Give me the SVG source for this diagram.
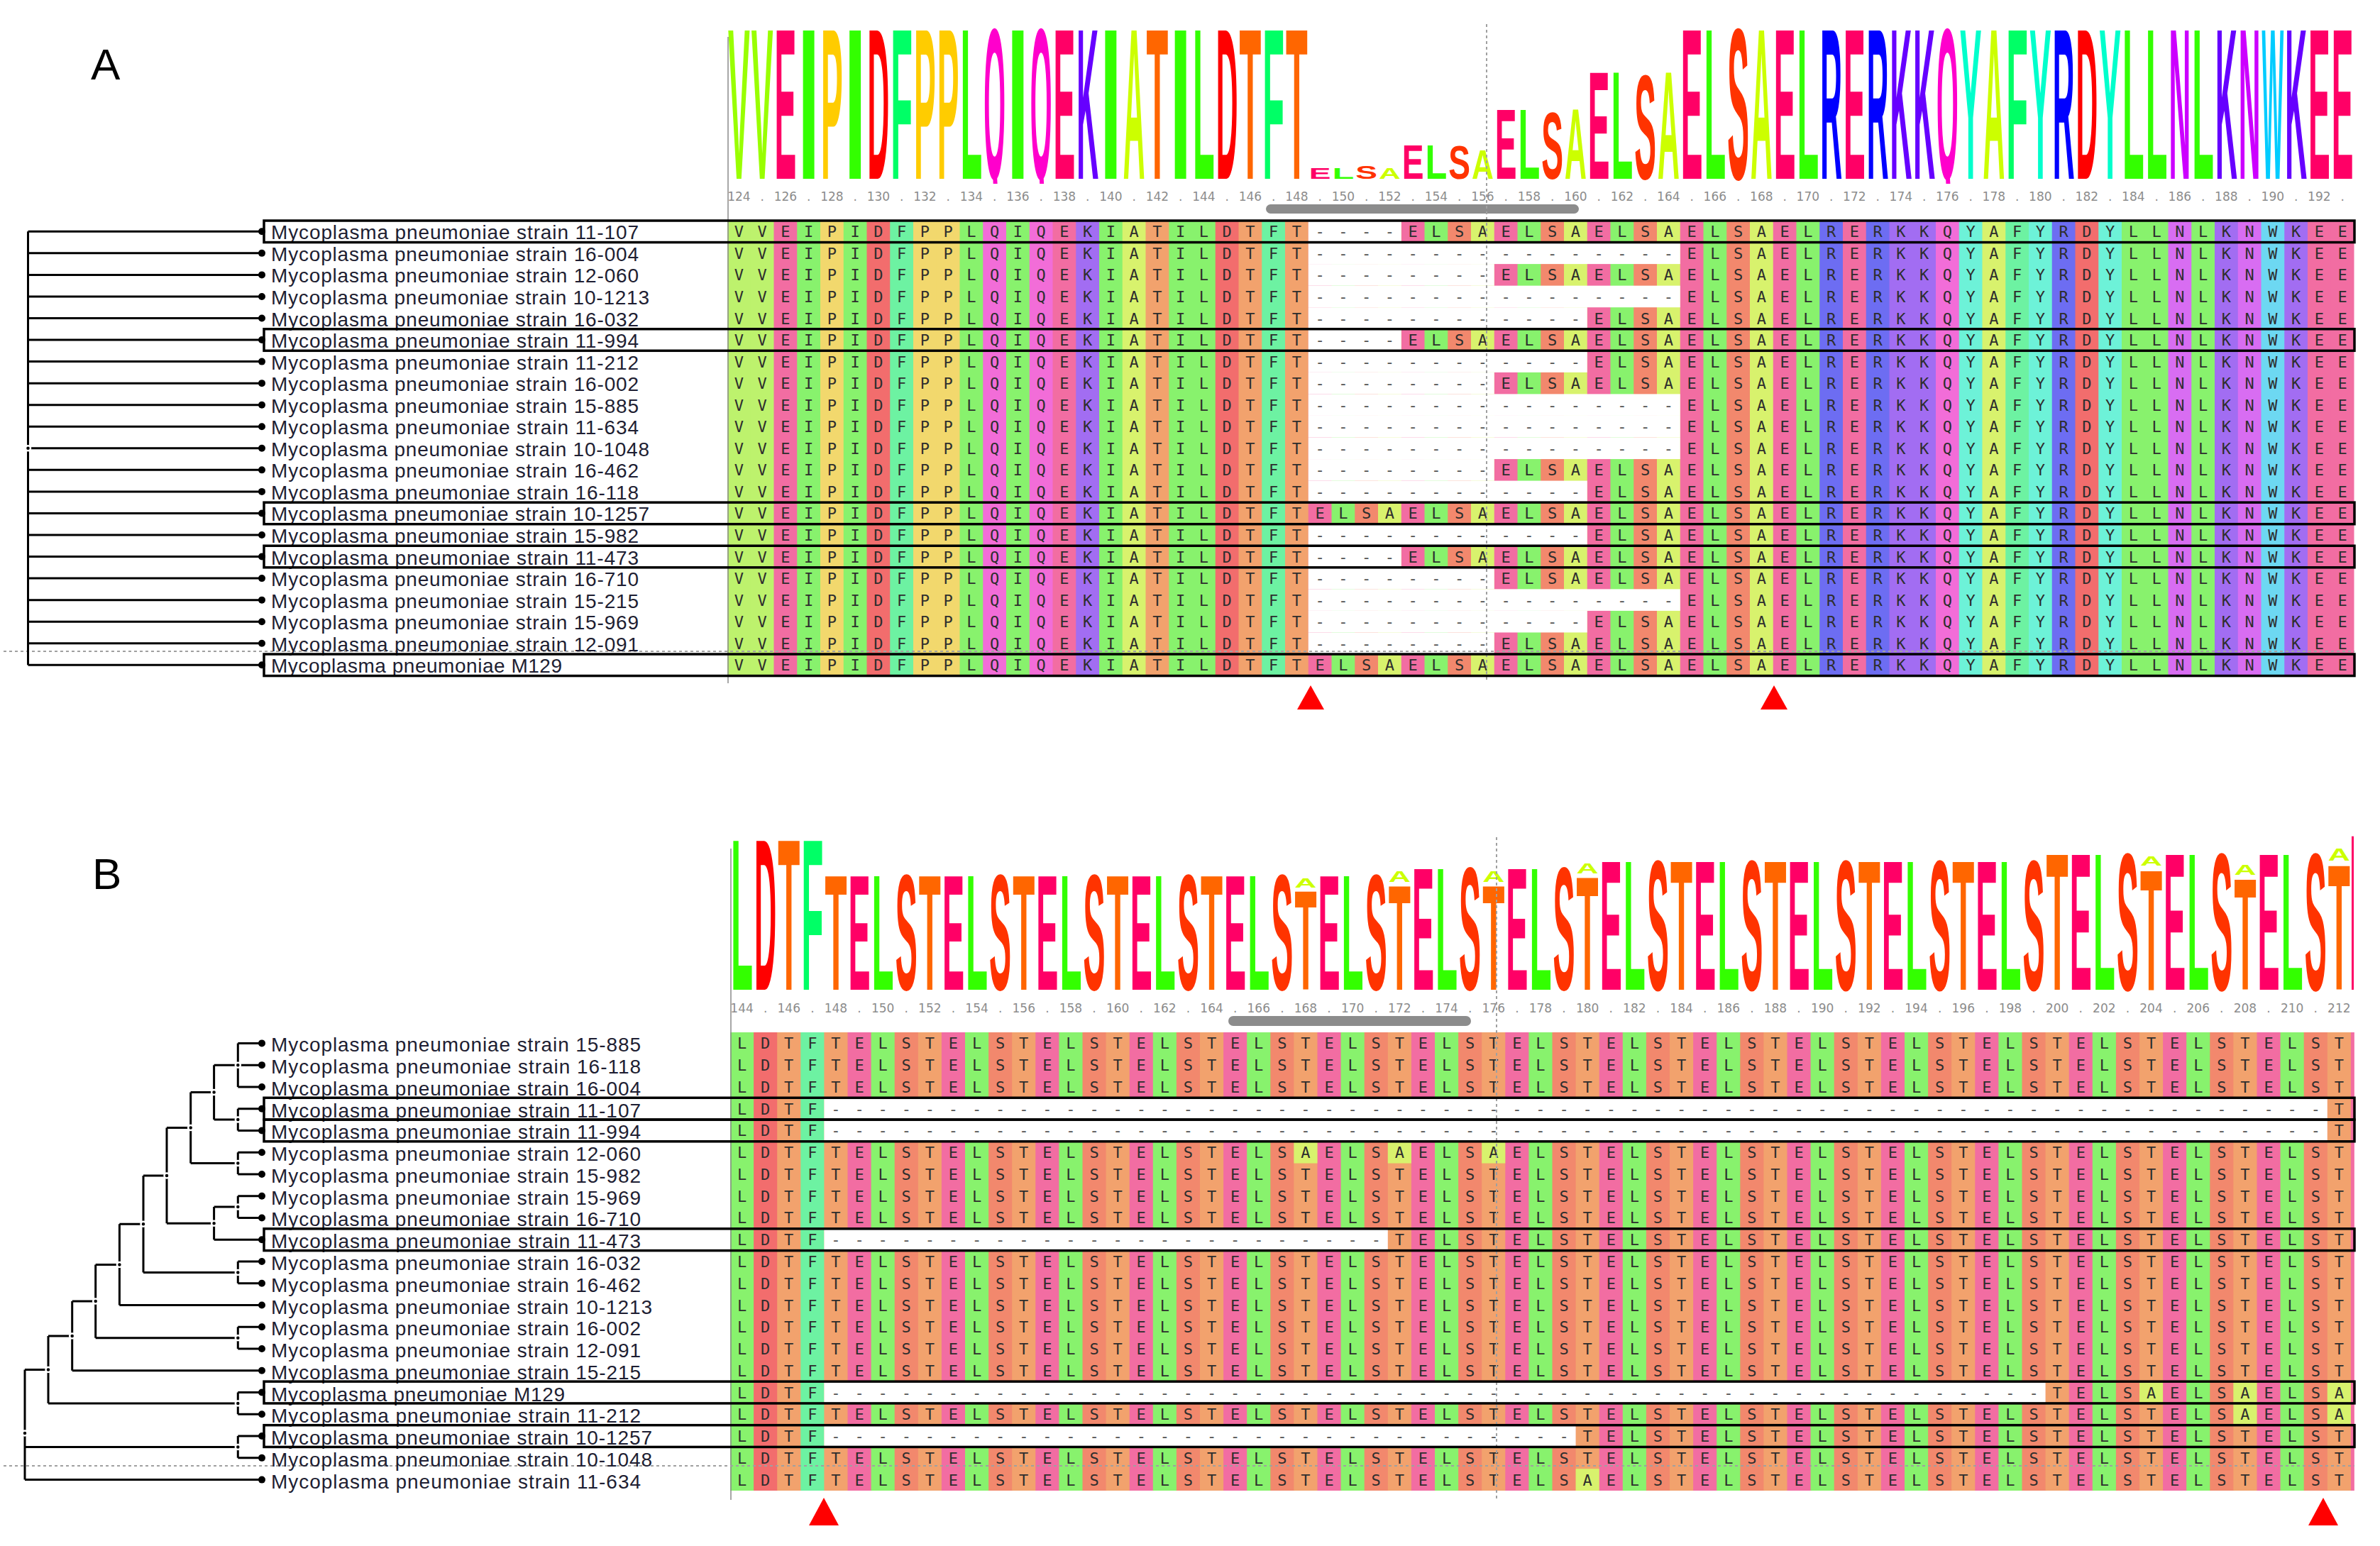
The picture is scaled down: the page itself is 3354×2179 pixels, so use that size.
<svg xmlns="http://www.w3.org/2000/svg" width="3354" height="2179" viewBox="0 0 3354 2179">
<style>
.lab{font-family:'Liberation Sans',Arial,sans-serif;font-size:28px;fill:#1e1e32}
.seq{font-family:'DejaVu Sans Mono',monospace;font-size:22px;fill:#2e2e2e}
.gp{fill:#505050}
.tick{font-family:'DejaVu Sans',sans-serif;font-size:17px;fill:#8c8c8c}
.lg text{font-family:'Liberation Sans',Arial,sans-serif;font-weight:bold}
.panel{font-family:'Liberation Sans',Arial,sans-serif;font-size:62px;fill:#000}
.tr{fill:none;stroke:#000;stroke-width:3}
.leaf{fill:#000}
.nd{fill:#000;stroke:#fff;stroke-width:2.5}
.box{fill:none;stroke:#000;stroke-width:3.5}
.dl{fill:none;stroke:#a0a0a0;stroke-width:2;stroke-dasharray:4 4}
.vl{fill:none;stroke:#8a8a8a;stroke-width:1.5}
.bar{fill:#8c8c8c}
.tri{fill:#ff0000}
.wh{fill:#fff}
.cV{fill:#bdf26d}.cE{fill:#f26da2}.cI{fill:#88f26d}.cL{fill:#88f26d}.cP{fill:#f2d86d}.cD{fill:#f26d6d}.cF{fill:#6df2a2}.cQ{fill:#f26dd8}.cK{fill:#a26df2}.cA{fill:#d8f26d}.cT{fill:#f2a26d}.cR{fill:#6d6df2}.cY{fill:#6df2d8}.cN{fill:#d86df2}.cW{fill:#6dd8f2}.cS{fill:#f2886d}
.gV{fill:#99ff00}.gE{fill:#ff0066}.gI{fill:#33ff00}.gL{fill:#33ff00}.gP{fill:#ffcc00}.gD{fill:#ff0000}.gF{fill:#00ff66}.gQ{fill:#ff00cc}.gK{fill:#6600ff}.gA{fill:#ccff00}.gT{fill:#ff6600}.gR{fill:#0000ff}.gY{fill:#00ffcc}.gN{fill:#cc00ff}.gW{fill:#00ccff}.gS{fill:#ff3300}
</style>
<defs>
<clipPath id="clipA"><rect x="1000" y="0" width="2340" height="259"/></clipPath>
<clipPath id="clipB"><rect x="1000" y="1150" width="2340" height="252"/></clipPath>
</defs>
<rect width="3354" height="2179" fill="#fff"/>

<!-- ================= PANEL A ================= -->
<text class="panel" x="128" y="112">A</text>

<g clip-path="url(#clipA)">
<g id="A-logo" class="lg" transform="translate(0 252) scale(1 1.03) translate(0 -252)">
<text x="1026" y="252" font-size="295" class="gV" textLength="30.75" lengthAdjust="spacingAndGlyphs">V</text>
<text x="1058.75" y="252" font-size="295" class="gV" textLength="30.75" lengthAdjust="spacingAndGlyphs">V</text>
<text x="1091.5" y="252" font-size="295" class="gE" textLength="30.75" lengthAdjust="spacingAndGlyphs">E</text>
<text x="1124.25" y="252" font-size="295" class="gI" textLength="30.75" lengthAdjust="spacingAndGlyphs">I</text>
<text x="1157" y="252" font-size="295" class="gP" textLength="30.75" lengthAdjust="spacingAndGlyphs">P</text>
<text x="1189.75" y="252" font-size="295" class="gI" textLength="30.75" lengthAdjust="spacingAndGlyphs">I</text>
<text x="1222.5" y="252" font-size="295" class="gD" textLength="30.75" lengthAdjust="spacingAndGlyphs">D</text>
<text x="1255.25" y="252" font-size="295" class="gF" textLength="30.75" lengthAdjust="spacingAndGlyphs">F</text>
<text x="1288" y="252" font-size="295" class="gP" textLength="30.75" lengthAdjust="spacingAndGlyphs">P</text>
<text x="1320.75" y="252" font-size="295" class="gP" textLength="30.75" lengthAdjust="spacingAndGlyphs">P</text>
<text x="1353.5" y="252" font-size="295" class="gL" textLength="30.75" lengthAdjust="spacingAndGlyphs">L</text>
<text x="1386.25" y="252" font-size="295" class="gQ" textLength="30.75" lengthAdjust="spacingAndGlyphs">Q</text>
<text x="1419" y="252" font-size="295" class="gI" textLength="30.75" lengthAdjust="spacingAndGlyphs">I</text>
<text x="1451.75" y="252" font-size="295" class="gQ" textLength="30.75" lengthAdjust="spacingAndGlyphs">Q</text>
<text x="1484.5" y="252" font-size="295" class="gE" textLength="30.75" lengthAdjust="spacingAndGlyphs">E</text>
<text x="1517.25" y="252" font-size="295" class="gK" textLength="30.75" lengthAdjust="spacingAndGlyphs">K</text>
<text x="1550" y="252" font-size="295" class="gI" textLength="30.75" lengthAdjust="spacingAndGlyphs">I</text>
<text x="1582.75" y="252" font-size="295" class="gA" textLength="30.75" lengthAdjust="spacingAndGlyphs">A</text>
<text x="1615.5" y="252" font-size="295" class="gT" textLength="30.75" lengthAdjust="spacingAndGlyphs">T</text>
<text x="1648.25" y="252" font-size="295" class="gI" textLength="30.75" lengthAdjust="spacingAndGlyphs">I</text>
<text x="1681" y="252" font-size="295" class="gL" textLength="30.75" lengthAdjust="spacingAndGlyphs">L</text>
<text x="1713.75" y="252" font-size="295" class="gD" textLength="30.75" lengthAdjust="spacingAndGlyphs">D</text>
<text x="1746.5" y="252" font-size="295" class="gT" textLength="30.75" lengthAdjust="spacingAndGlyphs">T</text>
<text x="1779.25" y="252" font-size="295" class="gF" textLength="30.75" lengthAdjust="spacingAndGlyphs">F</text>
<text x="1812" y="252" font-size="295" class="gT" textLength="30.75" lengthAdjust="spacingAndGlyphs">T</text>
<text x="1844.75" y="252" font-size="22" class="gE" textLength="30.75" lengthAdjust="spacingAndGlyphs">E</text>
<text x="1877.5" y="252" font-size="22" class="gL" textLength="30.75" lengthAdjust="spacingAndGlyphs">L</text>
<text x="1910.25" y="252" font-size="25" class="gS" textLength="30.75" lengthAdjust="spacingAndGlyphs">S</text>
<text x="1943" y="252" font-size="22" class="gA" textLength="30.75" lengthAdjust="spacingAndGlyphs">A</text>
<text x="1975.75" y="252" font-size="67" class="gE" textLength="30.75" lengthAdjust="spacingAndGlyphs">E</text>
<text x="2008.5" y="252" font-size="67" class="gL" textLength="30.75" lengthAdjust="spacingAndGlyphs">L</text>
<text x="2041.25" y="252" font-size="65" class="gS" textLength="30.75" lengthAdjust="spacingAndGlyphs">S</text>
<text x="2074" y="252" font-size="56" class="gA" textLength="30.75" lengthAdjust="spacingAndGlyphs">A</text>
<text x="2106.75" y="252" font-size="137" class="gE" textLength="30.75" lengthAdjust="spacingAndGlyphs">E</text>
<text x="2139.5" y="252" font-size="137" class="gL" textLength="30.75" lengthAdjust="spacingAndGlyphs">L</text>
<text x="2172.25" y="252" font-size="130" class="gS" textLength="30.75" lengthAdjust="spacingAndGlyphs">S</text>
<text x="2205" y="252" font-size="137" class="gA" textLength="30.75" lengthAdjust="spacingAndGlyphs">A</text>
<text x="2237.75" y="252" font-size="210" class="gE" textLength="30.75" lengthAdjust="spacingAndGlyphs">E</text>
<text x="2270.5" y="252" font-size="210" class="gL" textLength="30.75" lengthAdjust="spacingAndGlyphs">L</text>
<text x="2303.25" y="252" font-size="203" class="gS" textLength="30.75" lengthAdjust="spacingAndGlyphs">S</text>
<text x="2336" y="252" font-size="210" class="gA" textLength="30.75" lengthAdjust="spacingAndGlyphs">A</text>
<text x="2368.75" y="252" font-size="295" class="gE" textLength="30.75" lengthAdjust="spacingAndGlyphs">E</text>
<text x="2401.5" y="252" font-size="295" class="gL" textLength="30.75" lengthAdjust="spacingAndGlyphs">L</text>
<text x="2434.25" y="252" font-size="295" class="gS" textLength="30.75" lengthAdjust="spacingAndGlyphs">S</text>
<text x="2467" y="252" font-size="295" class="gA" textLength="30.75" lengthAdjust="spacingAndGlyphs">A</text>
<text x="2499.75" y="252" font-size="295" class="gE" textLength="30.75" lengthAdjust="spacingAndGlyphs">E</text>
<text x="2532.5" y="252" font-size="295" class="gL" textLength="30.75" lengthAdjust="spacingAndGlyphs">L</text>
<text x="2565.25" y="252" font-size="295" class="gR" textLength="30.75" lengthAdjust="spacingAndGlyphs">R</text>
<text x="2598" y="252" font-size="295" class="gE" textLength="30.75" lengthAdjust="spacingAndGlyphs">E</text>
<text x="2630.75" y="252" font-size="295" class="gR" textLength="30.75" lengthAdjust="spacingAndGlyphs">R</text>
<text x="2663.5" y="252" font-size="295" class="gK" textLength="30.75" lengthAdjust="spacingAndGlyphs">K</text>
<text x="2696.25" y="252" font-size="295" class="gK" textLength="30.75" lengthAdjust="spacingAndGlyphs">K</text>
<text x="2729" y="252" font-size="295" class="gQ" textLength="30.75" lengthAdjust="spacingAndGlyphs">Q</text>
<text x="2761.75" y="252" font-size="295" class="gY" textLength="30.75" lengthAdjust="spacingAndGlyphs">Y</text>
<text x="2794.5" y="252" font-size="295" class="gA" textLength="30.75" lengthAdjust="spacingAndGlyphs">A</text>
<text x="2827.25" y="252" font-size="295" class="gF" textLength="30.75" lengthAdjust="spacingAndGlyphs">F</text>
<text x="2860" y="252" font-size="295" class="gY" textLength="30.75" lengthAdjust="spacingAndGlyphs">Y</text>
<text x="2892.75" y="252" font-size="295" class="gR" textLength="30.75" lengthAdjust="spacingAndGlyphs">R</text>
<text x="2925.5" y="252" font-size="295" class="gD" textLength="30.75" lengthAdjust="spacingAndGlyphs">D</text>
<text x="2958.25" y="252" font-size="295" class="gY" textLength="30.75" lengthAdjust="spacingAndGlyphs">Y</text>
<text x="2991" y="252" font-size="295" class="gL" textLength="30.75" lengthAdjust="spacingAndGlyphs">L</text>
<text x="3023.75" y="252" font-size="295" class="gL" textLength="30.75" lengthAdjust="spacingAndGlyphs">L</text>
<text x="3056.5" y="252" font-size="295" class="gN" textLength="30.75" lengthAdjust="spacingAndGlyphs">N</text>
<text x="3089.25" y="252" font-size="295" class="gL" textLength="30.75" lengthAdjust="spacingAndGlyphs">L</text>
<text x="3122" y="252" font-size="295" class="gK" textLength="30.75" lengthAdjust="spacingAndGlyphs">K</text>
<text x="3154.75" y="252" font-size="295" class="gN" textLength="30.75" lengthAdjust="spacingAndGlyphs">N</text>
<text x="3187.5" y="252" font-size="295" class="gW" textLength="30.75" lengthAdjust="spacingAndGlyphs">W</text>
<text x="3220.25" y="252" font-size="295" class="gK" textLength="30.75" lengthAdjust="spacingAndGlyphs">K</text>
<text x="3253" y="252" font-size="295" class="gE" textLength="30.75" lengthAdjust="spacingAndGlyphs">E</text>
<text x="3285.75" y="252" font-size="295" class="gE" textLength="30.75" lengthAdjust="spacingAndGlyphs">E</text>
</g>
</g>

<text id="A-ticks" class="tick" x="1025.15" y="283" word-spacing="8.42">124 . 126 . 128 . 130 . 132 . 134 . 136 . 138 . 140 . 142 . 144 . 146 . 148 . 150 . 152 . 154 . 156 . 158 . 160 . 162 . 164 . 166 . 168 . 170 . 172 . 174 . 176 . 178 . 180 . 182 . 184 . 186 . 188 . 190 . 192 .</text>
<rect class="bar" x="1784" y="288" width="441" height="13" rx="6.5"/>

<g id="A-cells" transform="translate(1025 311) scale(32.75 30.55)">
<rect x="0" width="1.04" height="21" class="cV"/><rect x="1" width="1.04" height="21" class="cV"/><rect x="2" width="1.04" height="21" class="cE"/><rect x="3" width="1.04" height="21" class="cI"/><rect x="4" width="1.04" height="21" class="cP"/><rect x="5" width="1.04" height="21" class="cI"/><rect x="6" width="1.04" height="21" class="cD"/><rect x="7" width="1.04" height="21" class="cF"/><rect x="8" width="1.04" height="21" class="cP"/><rect x="9" width="1.04" height="21" class="cP"/>
<rect x="10" width="1.04" height="21" class="cL"/><rect x="11" width="1.04" height="21" class="cQ"/><rect x="12" width="1.04" height="21" class="cI"/><rect x="13" width="1.04" height="21" class="cQ"/><rect x="14" width="1.04" height="21" class="cE"/><rect x="15" width="1.04" height="21" class="cK"/><rect x="16" width="1.04" height="21" class="cI"/><rect x="17" width="1.04" height="21" class="cA"/><rect x="18" width="1.04" height="21" class="cT"/><rect x="19" width="1.04" height="21" class="cI"/>
<rect x="20" width="1.04" height="21" class="cL"/><rect x="21" width="1.04" height="21" class="cD"/><rect x="22" width="1.04" height="21" class="cT"/><rect x="23" width="1.04" height="21" class="cF"/><rect x="24" width="1.04" height="21" class="cT"/><rect x="25" width="1.04" height="21" class="cE"/><rect x="26" width="1.04" height="21" class="cL"/><rect x="27" width="1.04" height="21" class="cS"/><rect x="28" width="1.04" height="21" class="cA"/><rect x="29" width="1.04" height="21" class="cE"/>
<rect x="30" width="1.04" height="21" class="cL"/><rect x="31" width="1.04" height="21" class="cS"/><rect x="32" width="1.04" height="21" class="cA"/><rect x="33" width="1.04" height="21" class="cE"/><rect x="34" width="1.04" height="21" class="cL"/><rect x="35" width="1.04" height="21" class="cS"/><rect x="36" width="1.04" height="21" class="cA"/><rect x="37" width="1.04" height="21" class="cE"/><rect x="38" width="1.04" height="21" class="cL"/><rect x="39" width="1.04" height="21" class="cS"/>
<rect x="40" width="1.04" height="21" class="cA"/><rect x="41" width="1.04" height="21" class="cE"/><rect x="42" width="1.04" height="21" class="cL"/><rect x="43" width="1.04" height="21" class="cS"/><rect x="44" width="1.04" height="21" class="cA"/><rect x="45" width="1.04" height="21" class="cE"/><rect x="46" width="1.04" height="21" class="cL"/><rect x="47" width="1.04" height="21" class="cR"/><rect x="48" width="1.04" height="21" class="cE"/><rect x="49" width="1.04" height="21" class="cR"/>
<rect x="50" width="1.04" height="21" class="cK"/><rect x="51" width="1.04" height="21" class="cK"/><rect x="52" width="1.04" height="21" class="cQ"/><rect x="53" width="1.04" height="21" class="cY"/><rect x="54" width="1.04" height="21" class="cA"/><rect x="55" width="1.04" height="21" class="cF"/><rect x="56" width="1.04" height="21" class="cY"/><rect x="57" width="1.04" height="21" class="cR"/><rect x="58" width="1.04" height="21" class="cD"/><rect x="59" width="1.04" height="21" class="cY"/>
<rect x="60" width="1.04" height="21" class="cL"/><rect x="61" width="1.04" height="21" class="cL"/><rect x="62" width="1.04" height="21" class="cN"/><rect x="63" width="1.04" height="21" class="cL"/><rect x="64" width="1.04" height="21" class="cK"/><rect x="65" width="1.04" height="21" class="cN"/><rect x="66" width="1.04" height="21" class="cW"/><rect x="67" width="1.04" height="21" class="cK"/><rect x="68" width="1.04" height="21" class="cE"/><rect x="69" width="1" height="21" class="cE"/>
<rect class="wh" x="25" y="0" width="4" height="1"/>
<rect class="wh" x="25" y="1" width="16" height="1"/>
<rect class="wh" x="25" y="2" width="8" height="1"/>
<rect class="wh" x="25" y="3" width="16" height="1"/>
<rect class="wh" x="25" y="4" width="12" height="1"/>
<rect class="wh" x="25" y="5" width="4" height="1"/>
<rect class="wh" x="25" y="6" width="12" height="1"/>
<rect class="wh" x="25" y="7" width="8" height="1"/>
<rect class="wh" x="25" y="8" width="16" height="1"/>
<rect class="wh" x="25" y="9" width="16" height="1"/>
<rect class="wh" x="25" y="10" width="16" height="1"/>
<rect class="wh" x="25" y="11" width="8" height="1"/>
<rect class="wh" x="25" y="12" width="12" height="1"/>
<rect class="wh" x="25" y="14" width="12" height="1"/>
<rect class="wh" x="25" y="15" width="4" height="1"/>
<rect class="wh" x="25" y="16" width="8" height="1"/>
<rect class="wh" x="25" y="17" width="16" height="1"/>
<rect class="wh" x="25" y="18" width="12" height="1"/>
<rect class="wh" x="25" y="19" width="8" height="1"/>
</g>

<g id="A-seq" class="seq" letter-spacing="19.505">
<text x="1034.75" y="334.3">VVEIPIDFPPLQIQEKIATILDTFT<tspan class="gp">----</tspan>ELSAELSAELSAELSAELRERKKQYAFYRDYLLNLKNWKEE</text>
<text x="1034.75" y="364.85">VVEIPIDFPPLQIQEKIATILDTFT<tspan class="gp">----------------</tspan>ELSAELRERKKQYAFYRDYLLNLKNWKEE</text>
<text x="1034.75" y="395.4">VVEIPIDFPPLQIQEKIATILDTFT<tspan class="gp">--------</tspan>ELSAELSAELSAELRERKKQYAFYRDYLLNLKNWKEE</text>
<text x="1034.75" y="425.95">VVEIPIDFPPLQIQEKIATILDTFT<tspan class="gp">----------------</tspan>ELSAELRERKKQYAFYRDYLLNLKNWKEE</text>
<text x="1034.75" y="456.5">VVEIPIDFPPLQIQEKIATILDTFT<tspan class="gp">------------</tspan>ELSAELSAELRERKKQYAFYRDYLLNLKNWKEE</text>
<text x="1034.75" y="487.05">VVEIPIDFPPLQIQEKIATILDTFT<tspan class="gp">----</tspan>ELSAELSAELSAELSAELRERKKQYAFYRDYLLNLKNWKEE</text>
<text x="1034.75" y="517.6">VVEIPIDFPPLQIQEKIATILDTFT<tspan class="gp">------------</tspan>ELSAELSAELRERKKQYAFYRDYLLNLKNWKEE</text>
<text x="1034.75" y="548.15">VVEIPIDFPPLQIQEKIATILDTFT<tspan class="gp">--------</tspan>ELSAELSAELSAELRERKKQYAFYRDYLLNLKNWKEE</text>
<text x="1034.75" y="578.7">VVEIPIDFPPLQIQEKIATILDTFT<tspan class="gp">----------------</tspan>ELSAELRERKKQYAFYRDYLLNLKNWKEE</text>
<text x="1034.75" y="609.25">VVEIPIDFPPLQIQEKIATILDTFT<tspan class="gp">----------------</tspan>ELSAELRERKKQYAFYRDYLLNLKNWKEE</text>
<text x="1034.75" y="639.8">VVEIPIDFPPLQIQEKIATILDTFT<tspan class="gp">----------------</tspan>ELSAELRERKKQYAFYRDYLLNLKNWKEE</text>
<text x="1034.75" y="670.35">VVEIPIDFPPLQIQEKIATILDTFT<tspan class="gp">--------</tspan>ELSAELSAELSAELRERKKQYAFYRDYLLNLKNWKEE</text>
<text x="1034.75" y="700.9">VVEIPIDFPPLQIQEKIATILDTFT<tspan class="gp">------------</tspan>ELSAELSAELRERKKQYAFYRDYLLNLKNWKEE</text>
<text x="1034.75" y="731.45">VVEIPIDFPPLQIQEKIATILDTFTELSAELSAELSAELSAELSAELRERKKQYAFYRDYLLNLKNWKEE</text>
<text x="1034.75" y="762">VVEIPIDFPPLQIQEKIATILDTFT<tspan class="gp">------------</tspan>ELSAELSAELRERKKQYAFYRDYLLNLKNWKEE</text>
<text x="1034.75" y="792.55">VVEIPIDFPPLQIQEKIATILDTFT<tspan class="gp">----</tspan>ELSAELSAELSAELSAELRERKKQYAFYRDYLLNLKNWKEE</text>
<text x="1034.75" y="823.1">VVEIPIDFPPLQIQEKIATILDTFT<tspan class="gp">--------</tspan>ELSAELSAELSAELRERKKQYAFYRDYLLNLKNWKEE</text>
<text x="1034.75" y="853.65">VVEIPIDFPPLQIQEKIATILDTFT<tspan class="gp">----------------</tspan>ELSAELRERKKQYAFYRDYLLNLKNWKEE</text>
<text x="1034.75" y="884.2">VVEIPIDFPPLQIQEKIATILDTFT<tspan class="gp">------------</tspan>ELSAELSAELRERKKQYAFYRDYLLNLKNWKEE</text>
<text x="1034.75" y="914.75">VVEIPIDFPPLQIQEKIATILDTFT<tspan class="gp">--------</tspan>ELSAELSAELSAELRERKKQYAFYRDYLLNLKNWKEE</text>
<text x="1034.75" y="945.3">VVEIPIDFPPLQIQEKIATILDTFTELSAELSAELSAELSAELSAELRERKKQYAFYRDYLLNLKNWKEE</text>
</g>

<g id="A-guides">
<line class="vl" x1="1026" y1="52" x2="1026" y2="963"/>
<line class="dl" x1="2095" y1="34" x2="2095" y2="962"/>
<line class="dl" x1="5" y1="918" x2="3318" y2="918"/>
</g>

<g id="A-connectors">
<path class="tr" d="M39.5 326.3V937.3M39.5 326.3H369M39.5 356.85H369M39.5 387.4H369M39.5 417.95H369M39.5 448.5H369M39.5 479.05H369M39.5 509.6H369M39.5 540.15H369M39.5 570.7H369M39.5 601.25H369M39.5 631.8H369M39.5 662.35H369M39.5 692.9H369M39.5 723.45H369M39.5 754H369M39.5 784.55H369M39.5 815.1H369M39.5 845.65H369M39.5 876.2H369M39.5 906.75H369M39.5 937.3H369"/>
<circle class="nd" cx="39.5" cy="631.8" r="3.5"/>
</g>

<g id="A-leaves">
<g id="A-leaf-11-107"><circle class="leaf" cx="369" cy="326.3" r="5"/><text class="lab" x="382" y="337.3" textLength="518">Mycoplasma pneumoniae strain 11-107</text></g>
<g id="A-leaf-16-004"><circle class="leaf" cx="369" cy="356.85" r="5"/><text class="lab" x="382" y="367.85" textLength="518">Mycoplasma pneumoniae strain 16-004</text></g>
<g id="A-leaf-12-060"><circle class="leaf" cx="369" cy="387.4" r="5"/><text class="lab" x="382" y="398.4" textLength="518">Mycoplasma pneumoniae strain 12-060</text></g>
<g id="A-leaf-10-1213"><circle class="leaf" cx="369" cy="417.95" r="5"/><text class="lab" x="382" y="428.95" textLength="533">Mycoplasma pneumoniae strain 10-1213</text></g>
<g id="A-leaf-16-032"><circle class="leaf" cx="369" cy="448.5" r="5"/><text class="lab" x="382" y="459.5" textLength="518">Mycoplasma pneumoniae strain 16-032</text></g>
<g id="A-leaf-11-994"><circle class="leaf" cx="369" cy="479.05" r="5"/><text class="lab" x="382" y="490.05" textLength="518">Mycoplasma pneumoniae strain 11-994</text></g>
<g id="A-leaf-11-212"><circle class="leaf" cx="369" cy="509.6" r="5"/><text class="lab" x="382" y="520.6" textLength="518">Mycoplasma pneumoniae strain 11-212</text></g>
<g id="A-leaf-16-002"><circle class="leaf" cx="369" cy="540.15" r="5"/><text class="lab" x="382" y="551.15" textLength="518">Mycoplasma pneumoniae strain 16-002</text></g>
<g id="A-leaf-15-885"><circle class="leaf" cx="369" cy="570.7" r="5"/><text class="lab" x="382" y="581.7" textLength="518">Mycoplasma pneumoniae strain 15-885</text></g>
<g id="A-leaf-11-634"><circle class="leaf" cx="369" cy="601.25" r="5"/><text class="lab" x="382" y="612.25" textLength="518">Mycoplasma pneumoniae strain 11-634</text></g>
<g id="A-leaf-10-1048"><circle class="leaf" cx="369" cy="631.8" r="5"/><text class="lab" x="382" y="642.8" textLength="533">Mycoplasma pneumoniae strain 10-1048</text></g>
<g id="A-leaf-16-462"><circle class="leaf" cx="369" cy="662.35" r="5"/><text class="lab" x="382" y="673.35" textLength="518">Mycoplasma pneumoniae strain 16-462</text></g>
<g id="A-leaf-16-118"><circle class="leaf" cx="369" cy="692.9" r="5"/><text class="lab" x="382" y="703.9" textLength="518">Mycoplasma pneumoniae strain 16-118</text></g>
<g id="A-leaf-10-1257"><circle class="leaf" cx="369" cy="723.45" r="5"/><text class="lab" x="382" y="734.45" textLength="533">Mycoplasma pneumoniae strain 10-1257</text></g>
<g id="A-leaf-15-982"><circle class="leaf" cx="369" cy="754" r="5"/><text class="lab" x="382" y="765" textLength="518">Mycoplasma pneumoniae strain 15-982</text></g>
<g id="A-leaf-11-473"><circle class="leaf" cx="369" cy="784.55" r="5"/><text class="lab" x="382" y="795.55" textLength="518">Mycoplasma pneumoniae strain 11-473</text></g>
<g id="A-leaf-16-710"><circle class="leaf" cx="369" cy="815.1" r="5"/><text class="lab" x="382" y="826.1" textLength="518">Mycoplasma pneumoniae strain 16-710</text></g>
<g id="A-leaf-15-215"><circle class="leaf" cx="369" cy="845.65" r="5"/><text class="lab" x="382" y="856.65" textLength="518">Mycoplasma pneumoniae strain 15-215</text></g>
<g id="A-leaf-15-969"><circle class="leaf" cx="369" cy="876.2" r="5"/><text class="lab" x="382" y="887.2" textLength="518">Mycoplasma pneumoniae strain 15-969</text></g>
<g id="A-leaf-12-091"><circle class="leaf" cx="369" cy="906.75" r="5"/><text class="lab" x="382" y="917.75" textLength="518">Mycoplasma pneumoniae strain 12-091</text></g>
<g id="A-leaf-M129"><circle class="leaf" cx="369" cy="937.3" r="5"/><text class="lab" x="382" y="948.3" textLength="410">Mycoplasma pneumoniae M129</text></g>
</g>

<g id="A-boxes">
<rect class="box" x="372" y="311" width="2946" height="30.55"/>
<rect class="box" x="372" y="463.75" width="2946" height="30.55"/>
<rect class="box" x="372" y="708.15" width="2946" height="30.55"/>
<rect class="box" x="372" y="769.25" width="2946" height="30.55"/>
<rect class="box" x="372" y="922" width="2946" height="30.55"/>
</g>

<g id="A-markers">
<path class="tri" d="M1828 1000L1847 966L1866 1000Z"/>
<path class="tri" d="M2481 1000L2500 966L2519 1000Z"/>
</g>

<!-- ================= PANEL B ================= -->
<text class="panel" x="130" y="1253">B</text>

<g clip-path="url(#clipB)">
<g id="B-logo" class="lg" transform="translate(0 1395) scale(1 1.03) translate(0 -1395)">
<text x="1030" y="1395" font-size="296" class="gL" textLength="31.1" lengthAdjust="spacingAndGlyphs">L</text>
<text x="1063.1" y="1395" font-size="296" class="gD" textLength="31.1" lengthAdjust="spacingAndGlyphs">D</text>
<text x="1096.2" y="1395" font-size="296" class="gT" textLength="31.1" lengthAdjust="spacingAndGlyphs">T</text>
<text x="1129.3" y="1395" font-size="296" class="gF" textLength="31.1" lengthAdjust="spacingAndGlyphs">F</text>
<text x="1162.4" y="1395" font-size="226" class="gT" textLength="31.1" lengthAdjust="spacingAndGlyphs">T</text>
<text x="1195.5" y="1395" font-size="226" class="gE" textLength="31.1" lengthAdjust="spacingAndGlyphs">E</text>
<text x="1228.6" y="1395" font-size="226" class="gL" textLength="31.1" lengthAdjust="spacingAndGlyphs">L</text>
<text x="1261.7" y="1395" font-size="226" class="gS" textLength="31.1" lengthAdjust="spacingAndGlyphs">S</text>
<text x="1294.8" y="1395" font-size="226" class="gT" textLength="31.1" lengthAdjust="spacingAndGlyphs">T</text>
<text x="1327.9" y="1395" font-size="226" class="gE" textLength="31.1" lengthAdjust="spacingAndGlyphs">E</text>
<text x="1361" y="1395" font-size="226" class="gL" textLength="31.1" lengthAdjust="spacingAndGlyphs">L</text>
<text x="1394.1" y="1395" font-size="226" class="gS" textLength="31.1" lengthAdjust="spacingAndGlyphs">S</text>
<text x="1427.2" y="1395" font-size="226" class="gT" textLength="31.1" lengthAdjust="spacingAndGlyphs">T</text>
<text x="1460.3" y="1395" font-size="226" class="gE" textLength="31.1" lengthAdjust="spacingAndGlyphs">E</text>
<text x="1493.4" y="1395" font-size="226" class="gL" textLength="31.1" lengthAdjust="spacingAndGlyphs">L</text>
<text x="1526.5" y="1395" font-size="226" class="gS" textLength="31.1" lengthAdjust="spacingAndGlyphs">S</text>
<text x="1559.6" y="1395" font-size="226" class="gT" textLength="31.1" lengthAdjust="spacingAndGlyphs">T</text>
<text x="1592.7" y="1395" font-size="226" class="gE" textLength="31.1" lengthAdjust="spacingAndGlyphs">E</text>
<text x="1625.8" y="1395" font-size="226" class="gL" textLength="31.1" lengthAdjust="spacingAndGlyphs">L</text>
<text x="1658.9" y="1395" font-size="226" class="gS" textLength="31.1" lengthAdjust="spacingAndGlyphs">S</text>
<text x="1692" y="1395" font-size="226" class="gT" textLength="31.1" lengthAdjust="spacingAndGlyphs">T</text>
<text x="1725.1" y="1395" font-size="226" class="gE" textLength="31.1" lengthAdjust="spacingAndGlyphs">E</text>
<text x="1758.2" y="1395" font-size="226" class="gL" textLength="31.1" lengthAdjust="spacingAndGlyphs">L</text>
<text x="1791.3" y="1395" font-size="226" class="gS" textLength="31.1" lengthAdjust="spacingAndGlyphs">S</text>
<text x="1824.4" y="1395" font-size="194" class="gT" textLength="31.1" lengthAdjust="spacingAndGlyphs">T</text>
<text x="1824.4" y="1255" font-size="18.2" class="gA" textLength="31.1" lengthAdjust="spacingAndGlyphs">A</text>
<text x="1857.5" y="1395" font-size="226" class="gE" textLength="31.1" lengthAdjust="spacingAndGlyphs">E</text>
<text x="1890.6" y="1395" font-size="226" class="gL" textLength="31.1" lengthAdjust="spacingAndGlyphs">L</text>
<text x="1923.7" y="1395" font-size="226" class="gS" textLength="31.1" lengthAdjust="spacingAndGlyphs">S</text>
<text x="1956.8" y="1395" font-size="205" class="gT" textLength="31.1" lengthAdjust="spacingAndGlyphs">T</text>
<text x="1956.8" y="1247" font-size="21" class="gA" textLength="31.1" lengthAdjust="spacingAndGlyphs">A</text>
<text x="1989.9" y="1395" font-size="240" class="gE" textLength="31.1" lengthAdjust="spacingAndGlyphs">E</text>
<text x="2023" y="1395" font-size="240" class="gL" textLength="31.1" lengthAdjust="spacingAndGlyphs">L</text>
<text x="2056.1" y="1395" font-size="240" class="gS" textLength="31.1" lengthAdjust="spacingAndGlyphs">S</text>
<text x="2089.2" y="1395" font-size="205" class="gT" textLength="31.1" lengthAdjust="spacingAndGlyphs">T</text>
<text x="2089.2" y="1247" font-size="21" class="gA" textLength="31.1" lengthAdjust="spacingAndGlyphs">A</text>
<text x="2122.3" y="1395" font-size="240" class="gE" textLength="31.1" lengthAdjust="spacingAndGlyphs">E</text>
<text x="2155.4" y="1395" font-size="240" class="gL" textLength="31.1" lengthAdjust="spacingAndGlyphs">L</text>
<text x="2188.5" y="1395" font-size="240" class="gS" textLength="31.1" lengthAdjust="spacingAndGlyphs">S</text>
<text x="2221.6" y="1395" font-size="221" class="gT" textLength="31.1" lengthAdjust="spacingAndGlyphs">T</text>
<text x="2221.6" y="1236" font-size="19.6" class="gA" textLength="31.1" lengthAdjust="spacingAndGlyphs">A</text>
<text x="2254.7" y="1395" font-size="254" class="gE" textLength="31.1" lengthAdjust="spacingAndGlyphs">E</text>
<text x="2287.8" y="1395" font-size="254" class="gL" textLength="31.1" lengthAdjust="spacingAndGlyphs">L</text>
<text x="2320.9" y="1395" font-size="254" class="gS" textLength="31.1" lengthAdjust="spacingAndGlyphs">S</text>
<text x="2354" y="1395" font-size="254" class="gT" textLength="31.1" lengthAdjust="spacingAndGlyphs">T</text>
<text x="2387.1" y="1395" font-size="254" class="gE" textLength="31.1" lengthAdjust="spacingAndGlyphs">E</text>
<text x="2420.2" y="1395" font-size="254" class="gL" textLength="31.1" lengthAdjust="spacingAndGlyphs">L</text>
<text x="2453.3" y="1395" font-size="254" class="gS" textLength="31.1" lengthAdjust="spacingAndGlyphs">S</text>
<text x="2486.4" y="1395" font-size="254" class="gT" textLength="31.1" lengthAdjust="spacingAndGlyphs">T</text>
<text x="2519.5" y="1395" font-size="254" class="gE" textLength="31.1" lengthAdjust="spacingAndGlyphs">E</text>
<text x="2552.6" y="1395" font-size="254" class="gL" textLength="31.1" lengthAdjust="spacingAndGlyphs">L</text>
<text x="2585.7" y="1395" font-size="254" class="gS" textLength="31.1" lengthAdjust="spacingAndGlyphs">S</text>
<text x="2618.8" y="1395" font-size="254" class="gT" textLength="31.1" lengthAdjust="spacingAndGlyphs">T</text>
<text x="2651.9" y="1395" font-size="254" class="gE" textLength="31.1" lengthAdjust="spacingAndGlyphs">E</text>
<text x="2685" y="1395" font-size="254" class="gL" textLength="31.1" lengthAdjust="spacingAndGlyphs">L</text>
<text x="2718.1" y="1395" font-size="254" class="gS" textLength="31.1" lengthAdjust="spacingAndGlyphs">S</text>
<text x="2751.2" y="1395" font-size="254" class="gT" textLength="31.1" lengthAdjust="spacingAndGlyphs">T</text>
<text x="2784.3" y="1395" font-size="254" class="gE" textLength="31.1" lengthAdjust="spacingAndGlyphs">E</text>
<text x="2817.4" y="1395" font-size="254" class="gL" textLength="31.1" lengthAdjust="spacingAndGlyphs">L</text>
<text x="2850.5" y="1395" font-size="254" class="gS" textLength="31.1" lengthAdjust="spacingAndGlyphs">S</text>
<text x="2883.6" y="1395" font-size="268" class="gT" textLength="31.1" lengthAdjust="spacingAndGlyphs">T</text>
<text x="2916.7" y="1395" font-size="268" class="gE" textLength="31.1" lengthAdjust="spacingAndGlyphs">E</text>
<text x="2949.8" y="1395" font-size="268" class="gL" textLength="31.1" lengthAdjust="spacingAndGlyphs">L</text>
<text x="2982.9" y="1395" font-size="268" class="gS" textLength="31.1" lengthAdjust="spacingAndGlyphs">S</text>
<text x="3016" y="1395" font-size="236" class="gT" textLength="31.1" lengthAdjust="spacingAndGlyphs">T</text>
<text x="3016" y="1225" font-size="18.2" class="gA" textLength="31.1" lengthAdjust="spacingAndGlyphs">A</text>
<text x="3049.1" y="1395" font-size="268" class="gE" textLength="31.1" lengthAdjust="spacingAndGlyphs">E</text>
<text x="3082.2" y="1395" font-size="268" class="gL" textLength="31.1" lengthAdjust="spacingAndGlyphs">L</text>
<text x="3115.3" y="1395" font-size="268" class="gS" textLength="31.1" lengthAdjust="spacingAndGlyphs">S</text>
<text x="3148.4" y="1395" font-size="218" class="gT" textLength="31.1" lengthAdjust="spacingAndGlyphs">T</text>
<text x="3148.4" y="1238" font-size="19.6" class="gA" textLength="31.1" lengthAdjust="spacingAndGlyphs">A</text>
<text x="3181.5" y="1395" font-size="268" class="gE" textLength="31.1" lengthAdjust="spacingAndGlyphs">E</text>
<text x="3214.6" y="1395" font-size="268" class="gL" textLength="31.1" lengthAdjust="spacingAndGlyphs">L</text>
<text x="3247.7" y="1395" font-size="268" class="gS" textLength="31.1" lengthAdjust="spacingAndGlyphs">S</text>
<text x="3280.8" y="1395" font-size="245" class="gT" textLength="31.1" lengthAdjust="spacingAndGlyphs">T</text>
<text x="3280.8" y="1218.5" font-size="23" class="gA" textLength="31.1" lengthAdjust="spacingAndGlyphs">A</text>
<rect x="3314" y="1185" width="3" height="210" class="gE"/>
</g>
</g>

<text id="B-ticks" class="tick" x="1029.33" y="1427" word-spacing="8.77">144 . 146 . 148 . 150 . 152 . 154 . 156 . 158 . 160 . 162 . 164 . 166 . 168 . 170 . 172 . 174 . 176 . 178 . 180 . 182 . 184 . 186 . 188 . 190 . 192 . 194 . 196 . 198 . 200 . 202 . 204 . 206 . 208 . 210 . 212</text>
<rect class="bar" x="1731" y="1432" width="342" height="14" rx="7"/>

<g id="B-cells" transform="translate(1029 1455) scale(33.1 30.76)">
<rect x="0" width="1.04" height="21" class="cL"/><rect x="1" width="1.04" height="21" class="cD"/><rect x="2" width="1.04" height="21" class="cT"/><rect x="3" width="1.04" height="21" class="cF"/>
<rect x="4" width="1.04" height="21" class="cT"/><rect x="5" width="1.04" height="21" class="cE"/><rect x="6" width="1.04" height="21" class="cL"/><rect x="7" width="1.04" height="21" class="cS"/>
<rect x="8" width="1.04" height="21" class="cT"/><rect x="9" width="1.04" height="21" class="cE"/><rect x="10" width="1.04" height="21" class="cL"/><rect x="11" width="1.04" height="21" class="cS"/>
<rect x="12" width="1.04" height="21" class="cT"/><rect x="13" width="1.04" height="21" class="cE"/><rect x="14" width="1.04" height="21" class="cL"/><rect x="15" width="1.04" height="21" class="cS"/>
<rect x="16" width="1.04" height="21" class="cT"/><rect x="17" width="1.04" height="21" class="cE"/><rect x="18" width="1.04" height="21" class="cL"/><rect x="19" width="1.04" height="21" class="cS"/>
<rect x="20" width="1.04" height="21" class="cT"/><rect x="21" width="1.04" height="21" class="cE"/><rect x="22" width="1.04" height="21" class="cL"/><rect x="23" width="1.04" height="21" class="cS"/>
<rect x="24" width="1.04" height="21" class="cT"/><rect x="25" width="1.04" height="21" class="cE"/><rect x="26" width="1.04" height="21" class="cL"/><rect x="27" width="1.04" height="21" class="cS"/>
<rect x="28" width="1.04" height="21" class="cT"/><rect x="29" width="1.04" height="21" class="cE"/><rect x="30" width="1.04" height="21" class="cL"/><rect x="31" width="1.04" height="21" class="cS"/>
<rect x="32" width="1.04" height="21" class="cT"/><rect x="33" width="1.04" height="21" class="cE"/><rect x="34" width="1.04" height="21" class="cL"/><rect x="35" width="1.04" height="21" class="cS"/>
<rect x="36" width="1.04" height="21" class="cT"/><rect x="37" width="1.04" height="21" class="cE"/><rect x="38" width="1.04" height="21" class="cL"/><rect x="39" width="1.04" height="21" class="cS"/>
<rect x="40" width="1.04" height="21" class="cT"/><rect x="41" width="1.04" height="21" class="cE"/><rect x="42" width="1.04" height="21" class="cL"/><rect x="43" width="1.04" height="21" class="cS"/>
<rect x="44" width="1.04" height="21" class="cT"/><rect x="45" width="1.04" height="21" class="cE"/><rect x="46" width="1.04" height="21" class="cL"/><rect x="47" width="1.04" height="21" class="cS"/>
<rect x="48" width="1.04" height="21" class="cT"/><rect x="49" width="1.04" height="21" class="cE"/><rect x="50" width="1.04" height="21" class="cL"/><rect x="51" width="1.04" height="21" class="cS"/>
<rect x="52" width="1.04" height="21" class="cT"/><rect x="53" width="1.04" height="21" class="cE"/><rect x="54" width="1.04" height="21" class="cL"/><rect x="55" width="1.04" height="21" class="cS"/>
<rect x="56" width="1.04" height="21" class="cT"/><rect x="57" width="1.04" height="21" class="cE"/><rect x="58" width="1.04" height="21" class="cL"/><rect x="59" width="1.04" height="21" class="cS"/>
<rect x="60" width="1.04" height="21" class="cT"/><rect x="61" width="1.04" height="21" class="cE"/><rect x="62" width="1.04" height="21" class="cL"/><rect x="63" width="1.04" height="21" class="cS"/>
<rect x="64" width="1.04" height="21" class="cT"/><rect x="65" width="1.04" height="21" class="cE"/><rect x="66" width="1.04" height="21" class="cL"/><rect x="67" width="1.04" height="21" class="cS"/>
<rect x="68" width="1.04" height="21" class="cT"/><rect x="69" width="0.15" height="21" class="cE"/>
<rect class="wh" x="4" y="3" width="64" height="1"/>
<rect class="wh" x="4" y="4" width="64" height="1"/>
<rect class="wh" x="4" y="9" width="24" height="1"/>
<rect class="wh" x="4" y="16" width="52" height="1"/>
<rect class="wh" x="4" y="18" width="32" height="1"/>
<rect class="cA" x="24" y="5" width="1" height="1"/><rect class="cA" x="28" y="5" width="1" height="1"/><rect class="cA" x="32" y="5" width="1" height="1"/>
<rect class="cA" x="60" y="16" width="1" height="1"/><rect class="cA" x="64" y="16" width="1" height="1"/><rect class="cA" x="68" y="16" width="1" height="1"/>
<rect class="cA" x="64" y="17" width="1" height="1"/><rect class="cA" x="68" y="17" width="1" height="1"/>
<rect class="cA" x="36" y="20" width="1" height="1"/>
</g>

<g id="B-seq" class="seq" letter-spacing="19.855">
<text x="1038.93" y="1478.4">LDTFTELSTELSTELSTELSTELSTELSTELSTELSTELSTELSTELSTELSTELSTELSTELSTELST</text>
<text x="1038.93" y="1509.16">LDTFTELSTELSTELSTELSTELSTELSTELSTELSTELSTELSTELSTELSTELSTELSTELSTELST</text>
<text x="1038.93" y="1539.92">LDTFTELSTELSTELSTELSTELSTELSTELSTELSTELSTELSTELSTELSTELSTELSTELSTELST</text>
<text x="1038.93" y="1570.68">LDTF<tspan class="gp">----------------------------------------------------------------</tspan>T</text>
<text x="1038.93" y="1601.44">LDTF<tspan class="gp">----------------------------------------------------------------</tspan>T</text>
<text x="1038.93" y="1632.2">LDTFTELSTELSTELSTELSTELSAELSAELSAELSTELSTELSTELSTELSTELSTELSTELSTELST</text>
<text x="1038.93" y="1662.96">LDTFTELSTELSTELSTELSTELSTELSTELSTELSTELSTELSTELSTELSTELSTELSTELSTELST</text>
<text x="1038.93" y="1693.72">LDTFTELSTELSTELSTELSTELSTELSTELSTELSTELSTELSTELSTELSTELSTELSTELSTELST</text>
<text x="1038.93" y="1724.48">LDTFTELSTELSTELSTELSTELSTELSTELSTELSTELSTELSTELSTELSTELSTELSTELSTELST</text>
<text x="1038.93" y="1755.24">LDTF<tspan class="gp">------------------------</tspan>TELSTELSTELSTELSTELSTELSTELSTELSTELSTELST</text>
<text x="1038.93" y="1786">LDTFTELSTELSTELSTELSTELSTELSTELSTELSTELSTELSTELSTELSTELSTELSTELSTELST</text>
<text x="1038.93" y="1816.76">LDTFTELSTELSTELSTELSTELSTELSTELSTELSTELSTELSTELSTELSTELSTELSTELSTELST</text>
<text x="1038.93" y="1847.52">LDTFTELSTELSTELSTELSTELSTELSTELSTELSTELSTELSTELSTELSTELSTELSTELSTELST</text>
<text x="1038.93" y="1878.28">LDTFTELSTELSTELSTELSTELSTELSTELSTELSTELSTELSTELSTELSTELSTELSTELSTELST</text>
<text x="1038.93" y="1909.04">LDTFTELSTELSTELSTELSTELSTELSTELSTELSTELSTELSTELSTELSTELSTELSTELSTELST</text>
<text x="1038.93" y="1939.8">LDTFTELSTELSTELSTELSTELSTELSTELSTELSTELSTELSTELSTELSTELSTELSTELSTELST</text>
<text x="1038.93" y="1970.56">LDTF<tspan class="gp">----------------------------------------------------</tspan>TELSAELSAELSA</text>
<text x="1038.93" y="2001.32">LDTFTELSTELSTELSTELSTELSTELSTELSTELSTELSTELSTELSTELSTELSTELSTELSAELSA</text>
<text x="1038.93" y="2032.08">LDTF<tspan class="gp">--------------------------------</tspan>TELSTELSTELSTELSTELSTELSTELSTELST</text>
<text x="1038.93" y="2062.84">LDTFTELSTELSTELSTELSTELSTELSTELSTELSTELSTELSTELSTELSTELSTELSTELSTELST</text>
<text x="1038.93" y="2093.6">LDTFTELSTELSTELSTELSTELSTELSTELSTELSAELSTELSTELSTELSTELSTELSTELSTELST</text>
</g>

<g id="B-guides">
<line class="vl" x1="1030" y1="1196" x2="1030" y2="2114"/>
<line class="dl" x1="2109" y1="1180" x2="2109" y2="2114"/>
<line class="dl" x1="5" y1="2066" x2="3318" y2="2066"/>
</g>

<g id="B-connectors">
<path class="tr" d="M335.3 1470.4V1531.9M335.3 1470.4H369M301.6 1501.2H369M335.3 1531.9H369
M335.3 1562.7V1593.4M335.3 1562.7H369M335.3 1593.4H369
M301.6 1501.2V1578.1M301.6 1578.1H335.3
M335.3 1624.2V1655M335.3 1624.2H369M335.3 1655H369
M268.7 1539.6V1639.6M268.7 1539.6H301.6M268.7 1639.6H335.3
M335.3 1685.7V1716.5M335.3 1685.7H369M335.3 1716.5H369
M301.6 1701.1V1747.2M301.6 1701.1H335.3M301.6 1747.2H369
M235 1589.6V1724.2M235 1589.6H268.7M235 1724.2H301.6
M335.3 1778V1808.8M335.3 1778H369M335.3 1808.8H369
M202 1656.9V1793.4M202 1656.9H235M202 1793.4H335.3
M168.4 1725.2V1839.5M168.4 1725.2H202M168.4 1839.5H369
M335.3 1870.3V1901M335.3 1870.3H369M335.3 1901H369
M134.7 1782.4V1885.7M134.7 1782.4H168.4M134.7 1885.7H335.3
M101.7 1834.1V1931.8M101.7 1834.1H134.7M101.7 1931.8H369
M335.3 1962.6V1993.3M335.3 1962.6H369M335.3 1993.3H369
M68 1883V1977.9M68 1883H101.7M68 1977.9H335.3
M335.3 2024.1V2054.8M335.3 2024.1H369M335.3 2054.8H369
M35 1930.5V2085.6M35 1930.5H68M35 2039.5H335.3M35 2085.6H369"/>
<circle class="nd" cx="335.3" cy="1501.2" r="3.5"/>
<circle class="nd" cx="335.3" cy="1578.1" r="3.5"/>
<circle class="nd" cx="301.6" cy="1539.6" r="3.5"/>
<circle class="nd" cx="335.3" cy="1639.6" r="3.5"/>
<circle class="nd" cx="268.7" cy="1589.6" r="3.5"/>
<circle class="nd" cx="335.3" cy="1701.1" r="3.5"/>
<circle class="nd" cx="301.6" cy="1724.2" r="3.5"/>
<circle class="nd" cx="235" cy="1656.9" r="3.5"/>
<circle class="nd" cx="335.3" cy="1793.4" r="3.5"/>
<circle class="nd" cx="202" cy="1725.2" r="3.5"/>
<circle class="nd" cx="168.4" cy="1782.4" r="3.5"/>
<circle class="nd" cx="335.3" cy="1885.7" r="3.5"/>
<circle class="nd" cx="134.7" cy="1834.1" r="3.5"/>
<circle class="nd" cx="101.7" cy="1883" r="3.5"/>
<circle class="nd" cx="335.3" cy="1977.9" r="3.5"/>
<circle class="nd" cx="68" cy="1930.5" r="3.5"/>
<circle class="nd" cx="335.3" cy="2039.5" r="3.5"/>
<circle class="nd" cx="35" cy="2020" r="3.5"/>
</g>

<g id="B-leaves">
<g id="B-leaf-15-885"><circle class="leaf" cx="369" cy="1470.4" r="5"/><text class="lab" x="382" y="1482.4" textLength="521">Mycoplasma pneumoniae strain 15-885</text></g>
<g id="B-leaf-16-118"><circle class="leaf" cx="369" cy="1501.16" r="5"/><text class="lab" x="382" y="1513.16" textLength="521">Mycoplasma pneumoniae strain 16-118</text></g>
<g id="B-leaf-16-004"><circle class="leaf" cx="369" cy="1531.92" r="5"/><text class="lab" x="382" y="1543.92" textLength="521">Mycoplasma pneumoniae strain 16-004</text></g>
<g id="B-leaf-11-107"><circle class="leaf" cx="369" cy="1562.68" r="5"/><text class="lab" x="382" y="1574.68" textLength="521">Mycoplasma pneumoniae strain 11-107</text></g>
<g id="B-leaf-11-994"><circle class="leaf" cx="369" cy="1593.44" r="5"/><text class="lab" x="382" y="1605.44" textLength="521">Mycoplasma pneumoniae strain 11-994</text></g>
<g id="B-leaf-12-060"><circle class="leaf" cx="369" cy="1624.2" r="5"/><text class="lab" x="382" y="1636.2" textLength="521">Mycoplasma pneumoniae strain 12-060</text></g>
<g id="B-leaf-15-982"><circle class="leaf" cx="369" cy="1654.96" r="5"/><text class="lab" x="382" y="1666.96" textLength="521">Mycoplasma pneumoniae strain 15-982</text></g>
<g id="B-leaf-15-969"><circle class="leaf" cx="369" cy="1685.72" r="5"/><text class="lab" x="382" y="1697.72" textLength="521">Mycoplasma pneumoniae strain 15-969</text></g>
<g id="B-leaf-16-710"><circle class="leaf" cx="369" cy="1716.48" r="5"/><text class="lab" x="382" y="1728.48" textLength="521">Mycoplasma pneumoniae strain 16-710</text></g>
<g id="B-leaf-11-473"><circle class="leaf" cx="369" cy="1747.24" r="5"/><text class="lab" x="382" y="1759.24" textLength="521">Mycoplasma pneumoniae strain 11-473</text></g>
<g id="B-leaf-16-032"><circle class="leaf" cx="369" cy="1778" r="5"/><text class="lab" x="382" y="1790" textLength="521">Mycoplasma pneumoniae strain 16-032</text></g>
<g id="B-leaf-16-462"><circle class="leaf" cx="369" cy="1808.76" r="5"/><text class="lab" x="382" y="1820.76" textLength="521">Mycoplasma pneumoniae strain 16-462</text></g>
<g id="B-leaf-10-1213"><circle class="leaf" cx="369" cy="1839.52" r="5"/><text class="lab" x="382" y="1851.52" textLength="537">Mycoplasma pneumoniae strain 10-1213</text></g>
<g id="B-leaf-16-002"><circle class="leaf" cx="369" cy="1870.28" r="5"/><text class="lab" x="382" y="1882.28" textLength="521">Mycoplasma pneumoniae strain 16-002</text></g>
<g id="B-leaf-12-091"><circle class="leaf" cx="369" cy="1901.04" r="5"/><text class="lab" x="382" y="1913.04" textLength="521">Mycoplasma pneumoniae strain 12-091</text></g>
<g id="B-leaf-15-215"><circle class="leaf" cx="369" cy="1931.8" r="5"/><text class="lab" x="382" y="1943.8" textLength="521">Mycoplasma pneumoniae strain 15-215</text></g>
<g id="B-leaf-M129"><circle class="leaf" cx="369" cy="1962.56" r="5"/><text class="lab" x="382" y="1974.56" textLength="414">Mycoplasma pneumoniae M129</text></g>
<g id="B-leaf-11-212"><circle class="leaf" cx="369" cy="1993.32" r="5"/><text class="lab" x="382" y="2005.32" textLength="521">Mycoplasma pneumoniae strain 11-212</text></g>
<g id="B-leaf-10-1257"><circle class="leaf" cx="369" cy="2024.08" r="5"/><text class="lab" x="382" y="2036.08" textLength="537">Mycoplasma pneumoniae strain 10-1257</text></g>
<g id="B-leaf-10-1048"><circle class="leaf" cx="369" cy="2054.84" r="5"/><text class="lab" x="382" y="2066.84" textLength="537">Mycoplasma pneumoniae strain 10-1048</text></g>
<g id="B-leaf-11-634"><circle class="leaf" cx="369" cy="2085.6" r="5"/><text class="lab" x="382" y="2097.6" textLength="521">Mycoplasma pneumoniae strain 11-634</text></g>
</g>

<g id="B-boxes">
<rect class="box" x="372" y="1547.28" width="2946" height="30.76"/>
<rect class="box" x="372" y="1578.04" width="2946" height="30.76"/>
<rect class="box" x="372" y="1731.84" width="2946" height="30.76"/>
<rect class="box" x="372" y="1947.16" width="2946" height="30.76"/>
<rect class="box" x="372" y="2008.68" width="2946" height="30.76"/>
</g>

<g id="B-markers">
<path class="tri" d="M1140 2150L1161 2111L1182 2150Z"/>
<path class="tri" d="M3253 2150L3274 2111L3295 2150Z"/>
</g>
</svg>
